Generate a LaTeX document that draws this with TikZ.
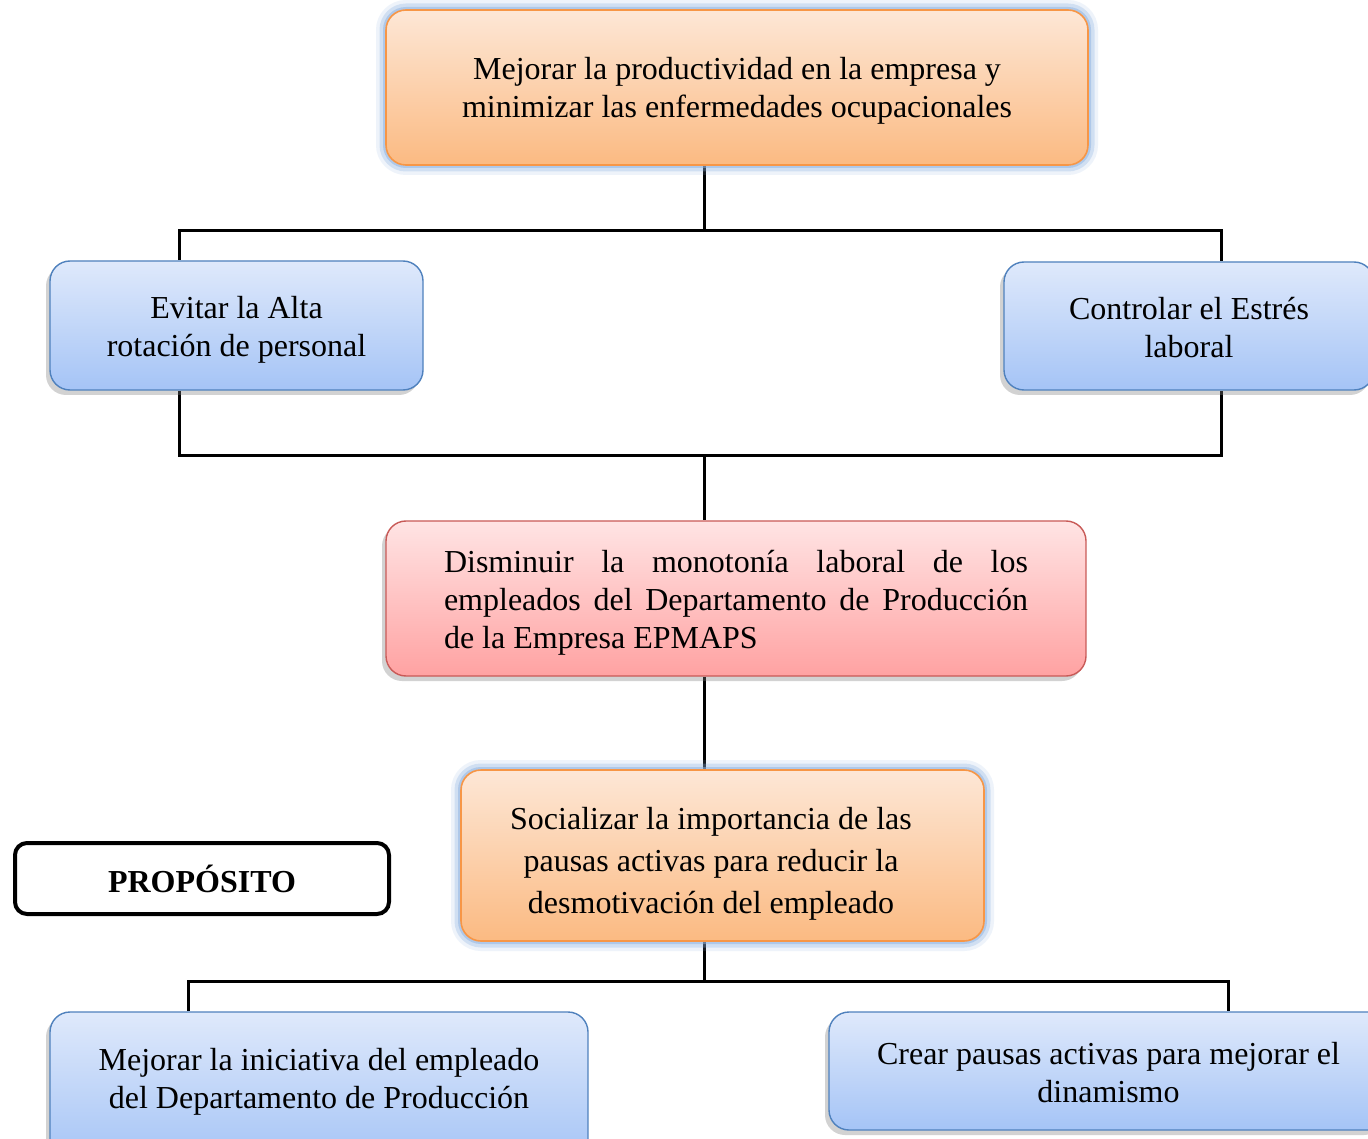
\documentclass[tikz,border=0pt]{standalone}
\usepackage{fontspec}
\setmainfont{Liberation Serif}
\usetikzlibrary{shadows,backgrounds}
\hyphenpenalty=10000
\exhyphenpenalty=10000
\tolerance=10000
\definecolor{orTop}{HTML}{FDE7D6}
\definecolor{orBot}{HTML}{FBBA82}
\definecolor{orLine}{HTML}{F79646}
\definecolor{blTop}{HTML}{DFE9FB}
\definecolor{blBot}{HTML}{A5C4F6}
\definecolor{blLine}{HTML}{4F81BD}
\definecolor{rdTop}{HTML}{FFE4E4}
\definecolor{rdBot}{HTML}{FFA2A2}
\definecolor{rdLine}{HTML}{C85A57}
\definecolor{glowC}{HTML}{8DB3E2}
\tikzset{
  txt/.style={font=\fontsize{32}{38}\selectfont, align=center, inner sep=0pt},
  boxbase/.style={rectangle, rounded corners=20pt, inner sep=0pt},
  orangebox/.style={boxbase, top color=orTop, bottom color=orBot, draw=orLine, line width=1.6pt,
    preaction={draw=glowC, line width=20pt, opacity=0.15},
    preaction={draw=glowC, line width=13pt, opacity=0.3},
    preaction={draw=glowC, line width=6pt, opacity=0.5}},
  bluebox/.style={boxbase, top color=blTop, bottom color=blBot, draw=blLine, line width=1.4pt,
    drop shadow={shadow xshift=-4pt, shadow yshift=-5pt, opacity=0.35}},
  redbox/.style={boxbase, top color=rdTop, bottom color=rdBot, draw=rdLine, line width=1.4pt,
    drop shadow={shadow xshift=-4pt, shadow yshift=-5pt, opacity=0.35}},
  propbox/.style={rectangle, rounded corners=12pt, draw=black, line width=4pt, fill=white, inner sep=0pt,
    font=\fontsize{32}{38}\selectfont\bfseries},
  conn/.style={draw=black, line width=3pt}
}
\begin{document}
\begin{tikzpicture}[x=1pt,y=-1pt]
\useasboundingbox (0,0) rectangle (1368,1139);
\clip (0,0) rectangle (1368,1139);

\node[orangebox, minimum width=702pt, minimum height=155pt] (top) at (737,87.5) {};
\node[txt] (toptxt) at (737,91)
  {Mejorar la productividad en la empresa y\\minimizar las enfermedades ocupacionales};

\node[bluebox, minimum width=373pt, minimum height=129pt] (b1) at (236.5,325.5) {};
\node[txt] (b1txt) at (236.5,330) {Evitar la Alta\\rotación de personal};
\node[bluebox, minimum width=370pt, minimum height=128pt] (b2) at (1189,326) {};
\node[txt] (b2txt) at (1189,328) {Controlar el Estrés\\laboral};

\node[redbox, minimum width=700pt, minimum height=155pt] (red) at (736,598.5) {};
\node[txt, text width=584pt, align=justify] (redtxt) at (736,603)
  {Disminuir la monotonía laboral de los empleados del Departamento de Producción de la Empresa EPMAPS};

\node[orangebox, minimum width=523pt, minimum height=171pt] (org) at (722.5,855.5) {};
\node[txt, font=\fontsize{32}{42}\selectfont] (orgtxt) at (711,864)
  {Socializar la importancia de las\\pausas activas para reducir la\\desmotivación del empleado};

\node[propbox, minimum width=374pt, minimum height=71pt] (prop) at (202,878.5) {PROPÓSITO};

\node[bluebox, minimum width=538pt, minimum height=150pt] (bl) at (319,1087) {};
\node[txt] (bltxt) at (319,1082)
  {Mejorar la iniciativa del empleado\\del Departamento de Producción};
\node[bluebox, minimum width=559pt, minimum height=118pt] (br) at (1108.5,1071) {};
\node[txt] (brtxt) at (1108.5,1073) {Crear pausas activas para mejorar el\\dinamismo};

\coordinate (j1) at (704,231);
\coordinate (j1L) at (179,231);
\coordinate (j1R) at (1221,231);
\coordinate (j2) at (704,455);
\coordinate (j2L) at (179,455);
\coordinate (j2R) at (1221,455);
\coordinate (j3) at (704,981);
\coordinate (j3L) at (188,981);
\coordinate (j3R) at (1228,981);

\begin{scope}[on background layer]
\fill[white] (0,0) rectangle (1368,1139);
\draw[conn] (top.south -| j1) -- (j1);
\draw[conn] (j1L |- b1.north) -- (j1L) -- (j1R) -- (j1R |- b2.north);
\draw[conn] (j2L |- b1.south) -- (j2L) -- (j2R) -- (j2R |- b2.south);
\draw[conn] (j2) -- (j2 |- red.north);
\draw[conn] (red.south -| j2) -- (j2 |- org.north);
\draw[conn] (org.south -| j3) -- (j3);
\draw[conn] (j3L |- bl.north) -- (j3L) -- (j3R) -- (j3R |- br.north);
\end{scope}
\end{tikzpicture}
\end{document}
